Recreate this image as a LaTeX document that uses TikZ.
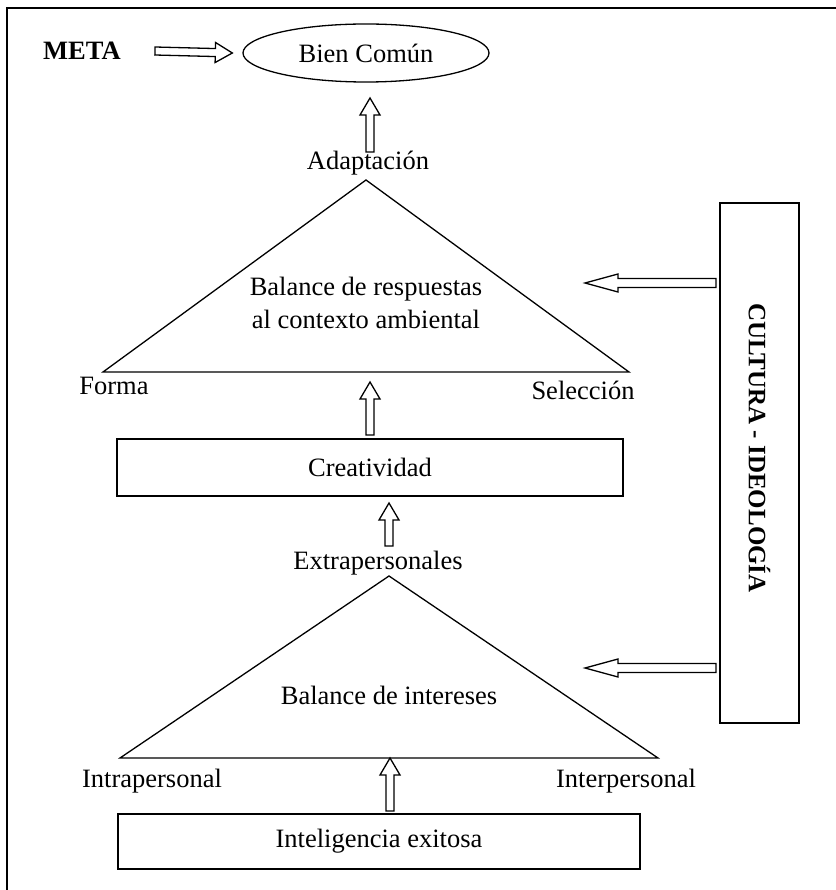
\documentclass[tikz,border=0pt]{standalone}
\usepackage{fontspec}
\setmainfont{Liberation Serif}
\usetikzlibrary{calc,positioning,shapes.geometric}

\tikzset{
    hollowarrow/.style n args={3}{line width=1.3pt, fill=white, to path={
        ($(\tikztostart)!#1!90:(\tikztotarget)$)
        -- ($($(\tikztotarget)!#3!(\tikztostart)$)!#1!-90:(\tikztostart)$)
        -- ($($(\tikztotarget)!#3!(\tikztostart)$)!#2!-90:(\tikztostart)$)
        -- (\tikztotarget)
        -- ($($(\tikztotarget)!#3!(\tikztostart)$)!#2!90:(\tikztostart)$)
        -- ($($(\tikztotarget)!#3!(\tikztostart)$)!#1!90:(\tikztostart)$)
        -- ($(\tikztostart)!#1!-90:(\tikztotarget)$) -- cycle}},
    uparrow/.style={hollowarrow={4pt}{10pt}{17pt}},
    sidearrow/.style={hollowarrow={4.5pt}{9pt}{33pt}}
}

\begin{document}
\begin{tikzpicture}[
    x=1pt, y=-1pt,
    every node/.style={font=\fontsize{26.5}{33}\selectfont, inner sep=0pt},
    box/.style={draw, line width=1.5pt},
    tri/.style={draw, line width=1.3pt, line join=miter}
]
\useasboundingbox (0,0) rectangle (835,890);

% Outer frame
\draw[line width=2pt] (7,8) rectangle (860,910);

% Goal
\node[font=\fontsize{26.5}{33}\selectfont\bfseries] (meta) at (82,51) {META};
\node[ellipse, draw, line width=1.3pt, minimum width=246pt, minimum height=58pt] (goal) at (366,53) {Bien Común};

% Upper triangle
\node (adapt) at (368,163) {Adaptación};
\coordinate (apexA) at (366,180);
\coordinate (formaC) at (103,372);
\coordinate (selC) at (629,372);
\draw[tri] (apexA) -- (formaC) -- (selC) -- cycle;
\node[align=center] (respuestas) at (366,303) {Balance de respuestas\\al contexto ambiental};
\node (forma) at (114,386) {Forma};
\node (seleccion) at (583,390) {Selección};

% Creativity
\node[box, minimum width=506pt, minimum height=57pt] (creat) at (370,467.5) {Creatividad};

% Lower triangle
\node (extra) at (378,563) {Extrapersonales};
\coordinate (apexB) at (389,576);
\coordinate (intraC) at (120,758);
\coordinate (interC) at (658,758);
\draw[tri] (apexB) -- (intraC) -- (interC) -- cycle;
\node (intereses) at (389,695) {Balance de intereses};
\node (intra) at (152,781) {Intrapersonal};
\node (inter) at (626,781) {Interpersonal};

% Base
\node[box, minimum width=522pt, minimum height=55pt] (intel) at (379,841.5) {Inteligencia exitosa};

% Culture
\node[box, minimum width=79pt, minimum height=520pt] (cultura) at (759.5,463) {};
\node[rotate=-90, font=\fontsize{25}{33}\selectfont\bfseries] (culturaTxt) at ($(cultura.center)+(0,-15)$) {CULTURA - IDEOLOGÍA};

% Arrow ends
\coordinate (m1) at (155,51);
\coordinate (m2) at ($(goal.west)+(-10,0)$);
\coordinate (a1) at (370,152);
\coordinate (a2) at (370,98);
\coordinate (c1) at (370,435);
\coordinate (c2) at (370,382);
\coordinate (e1) at (389,546);
\coordinate (e2) at (389,503);
\coordinate (i1) at (390,811);
\coordinate (i2) at (390,758);
\coordinate (u1) at (716,283);
\coordinate (u2) at (585,283);
\coordinate (l1) at (716,668);
\coordinate (l2) at (585,668);

% Arrows
\draw[uparrow] (m1) to (m2);
\draw[uparrow] (a1) to (a2);
\draw[uparrow] (c1) to (c2);
\draw[uparrow] (e1) to (e2);
\draw[uparrow] (i1) to (i2);
\draw[sidearrow] (u1) to (u2);
\draw[sidearrow] (l1) to (l2);

\end{tikzpicture}
\end{document}
